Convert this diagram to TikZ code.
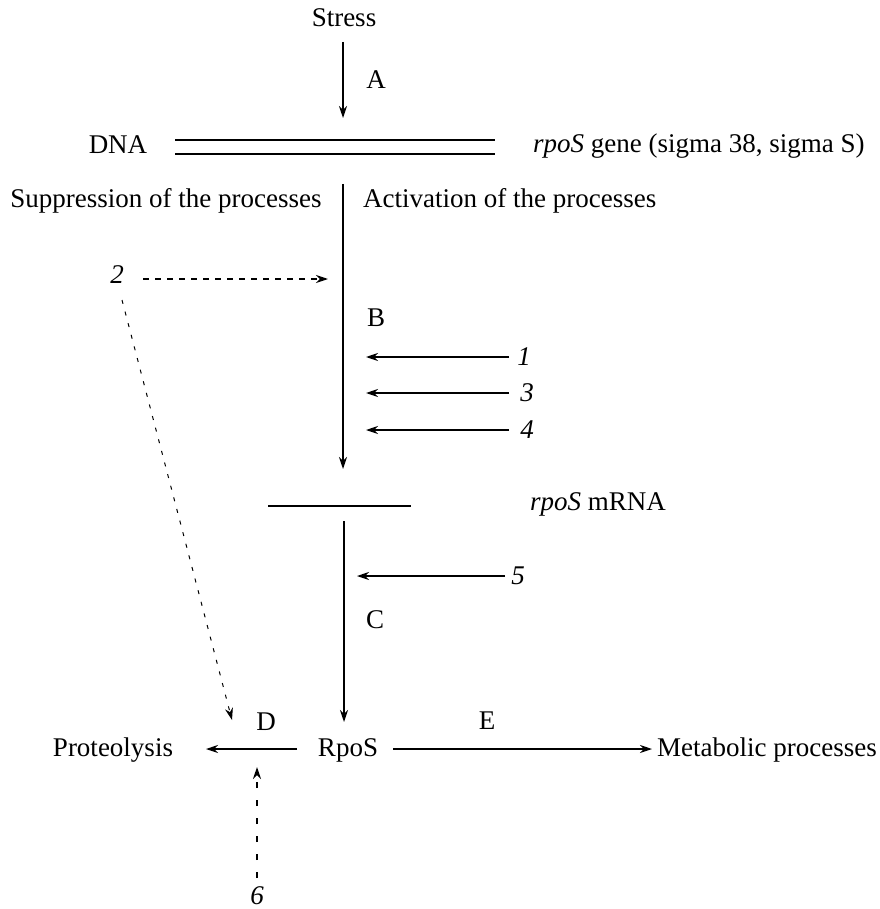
\documentclass[tikz,border=0pt]{standalone}
\usepackage{fontspec}
\setmainfont{Liberation Serif}
\usetikzlibrary{arrows.meta}
\begin{document}
\begin{tikzpicture}[x=1pt,y=-1pt,
  every node/.style={font=\fontsize{27}{31}\selectfont, inner sep=0pt},
  arr/.style={line width=1.3pt,-{Stealth[length=12pt,width=8pt]}},
  dsh/.style={line width=1.5pt,dash pattern=on 6pt off 6pt,-{Stealth[length=12pt,width=8pt]}},
  dot/.style={line width=1pt,dash pattern=on 4pt off 8pt,-{Stealth[length=12pt,width=8pt]}},
  ln/.style={line width=1.3pt}]
\useasboundingbox (0,0) rectangle (879,909);
% top
\node (stress) at (344,18) {Stress};
\coordinate (astart) at (343,42);
\coordinate (aend) at (343,118);
\draw[arr] (astart) -- (aend);
\node (A) at (376,80) {A};
\node (dna) at (118,145) {DNA};
\coordinate (d1l) at (175,140); \coordinate (d1r) at (495,140);
\coordinate (d2l) at (175,154); \coordinate (d2r) at (495,154);
\draw[ln] (d1l) -- (d1r); \draw[ln] (d2l) -- (d2r);
\node[anchor=west] (gene) at (533,146) {\textit{rpoS} gene (sigma 38, sigma S)};
\node (supp) at (166,201) {Suppression of the processes};
\node[anchor=west] (act) at (363,201) {Activation of the processes};
% B
\coordinate (btop) at (343,184);
\coordinate (bend) at (343,469);
\draw[arr] (btop) -- (bend);
\node (B) at (376,318) {B};
\node (n2) at (117,275) {\textit{2}};
\coordinate (s2) at (143,279);
\coordinate (t2) at (328,279);
\draw[dsh] (s2) -- (t2);
\coordinate (s2d) at (122,300);
\coordinate (dD) at (232,720);
\draw[dot] (s2d) -- (dD);
\node (n1) at (524,357) {\textit{1}};
\node (n3) at (527,393) {\textit{3}};
\node (n4) at (527,430) {\textit{4}};
\coordinate (s1) at (509,357); \coordinate (s3) at (509,393); \coordinate (s4) at (509,430);
\coordinate (e1) at (366,357); \coordinate (e3) at (366,393); \coordinate (e4) at (366,430);
\draw[arr] (s1) -- (e1);
\draw[arr] (s3) -- (e3);
\draw[arr] (s4) -- (e4);
% mRNA
\coordinate (ml) at (268,506); \coordinate (mr) at (411,506);
\draw[ln] (ml) -- (mr);
\node[anchor=west] (mrna) at (530,504) {\textit{rpoS} mRNA};
% C
\node (rpos) at (348,750) {RpoS};
\coordinate (ctop) at (344,521);
\coordinate (cend) at (344,722);
\draw[arr] (ctop) -- (cend);
\node (n5) at (518,576) {\textit{5}};
\coordinate (s5) at (505,576);
\coordinate (e5) at (357,576);
\draw[arr] (s5) -- (e5);
\node (C) at (375,620) {C};
% bottom
\node (D) at (266,722) {D};
\node (E) at (487,721) {E};
\node (prot) at (113,750) {Proteolysis};
\node[anchor=west] (meta) at (657,750) {Metabolic processes};
\coordinate (ps) at (297,749); \coordinate (pe) at (206,749);
\coordinate (ms) at (393,749); \coordinate (me) at (652,749);
\draw[arr] (ps) -- (pe);
\draw[arr] (ms) -- (me);
\node (n6) at (257,896) {\textit{6}};
\coordinate (s6) at (257,878);
\coordinate (up6) at (257,767);
\draw[dsh,dash pattern=on 6pt off 12pt] (s6) -- (up6);
\end{tikzpicture}
\end{document}
